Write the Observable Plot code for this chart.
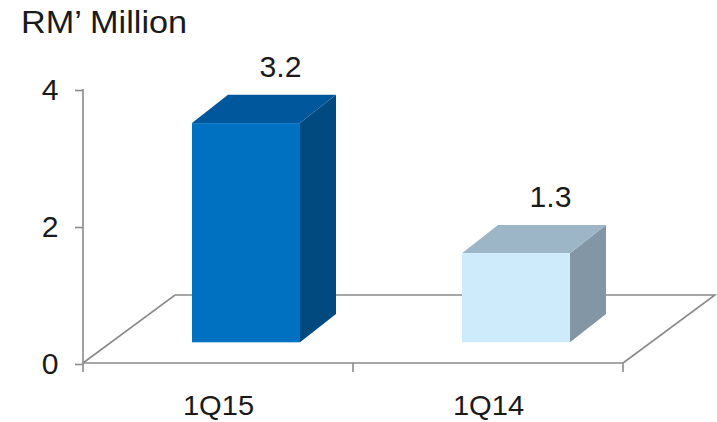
<!DOCTYPE html>
<html><head><meta charset="utf-8">
<script src="https://cdn.jsdelivr.net/npm/d3@7"></script>
<script src="https://cdn.jsdelivr.net/npm/@observablehq/plot@0.6"></script>
<style>
body{margin:0;background:#fff;}
#wrap{position:relative;width:717px;height:422px;font-family:"Liberation Sans",Arial,sans-serif;}
#title{position:absolute;left:21px;top:6px;font-size:32px;line-height:1;color:#1a1a1a;white-space:nowrap;transform:scaleX(1.07);transform-origin:0 0;}
#wrap svg{position:absolute;left:0;top:0;}
</style></head><body>
<div id="wrap"><div id="title"></div></div>
<script>
// ---- data ----
const unitLabel = "RM’ Million";
const categories = ["1Q15", "1Q14"];
const values = [3.2, 1.3];
const yTicks = [0, 2, 4];

// ---- style (not data) ----
const frontColors = ["#0070C0", "#CDEBFB"];
const topColors = ["#00579C", "#9CB5C7"];
const sideColors = ["#004A80", "#8296A5"];
const axisGray = "#8a8a8a";
const textColor = "#1a1a1a";
const FRONT = [28, -20.7];   // pixel offset of bar front face (3D depth)
const DEPTH = [36, -28.3];   // pixel depth of each bar
const FLOOR = [92, -68];     // pixel depth of the floor
const BAR_FRAC = 0.4;
const TEXT_STRETCH = 1.04;   // the reference's lettering is slightly widened
const FS = 29;
const FS_X = 28;

document.getElementById("title").textContent = unitLabel;

const table = categories.map((c, i) => ({cat: c, value: values[i]}));
const NS = "http://www.w3.org/2000/svg";
function el(name, attrs) {
  const e = document.createElementNS(NS, name);
  for (const k in attrs) e.setAttribute(k, attrs[k]);
  return e;
}

// floor (3D base plane) + axis lines
const floorMark = (index, {x, y}) => {
  const g = el("g", {fill: "none", stroke: axisGray, "stroke-width": 1.6});
  const [x0, x1] = x.range();
  const y0 = y(0);
  const [fdx, fdy] = FLOOR;
  g.append(el("path", {d: `M${x0},${y0}L${x0 + fdx},${y0 + fdy}L${x1 + fdx},${y0 + fdy}L${x1},${y0}`}));
  g.append(el("path", {d: `M${x0},${y(yTicks[yTicks.length - 1])}L${x0},${y0}`}));
  g.append(el("path", {d: `M${x0},${y0}L${x1},${y0}`}));
  const bounds = categories.map(c => x(c)).concat([x(categories[categories.length - 1]) + x.bandwidth()]);
  for (const bx of bounds) g.append(el("path", {d: `M${bx},${y0}L${bx},${y0 + 9}`}));
  return g;
};

// top and side faces of each 3D bar
const facesMark = (index, {x, y}) => {
  const g = el("g", {});
  const bw = x.bandwidth();
  const [ddx, ddy] = DEPTH;
  categories.forEach((c, i) => {
    const w = bw * BAR_FRAC;
    const l = x(c) + bw / 2 - w / 2 + FRONT[0], r = l + w;
    const b = y(0) + FRONT[1], t = y(values[i]) + FRONT[1];
    g.append(el("path", {d: `M${r},${t}L${r + ddx},${t + ddy}L${r + ddx},${b + ddy}L${r},${b}Z`, fill: sideColors[i]}));
    g.append(el("path", {d: `M${l},${t}L${r},${t}L${r + ddx},${t + ddy}L${l + ddx},${t + ddy}Z`, fill: topColors[i]}));
  });
  return g;
};

const W = 717, H = 422;
const chart = Plot.plot({
  width: W, height: H,
  marginLeft: 83, marginRight: 94, marginTop: 89, marginBottom: 59,
  style: {fontFamily: "'Liberation Sans', Arial, sans-serif", fontSize: FS + "px", color: textColor, background: "transparent", overflow: "visible"},
  x: {domain: categories, padding: 0, label: null},
  y: {domain: [0, 4], label: null},
  color: {domain: categories, range: frontColors},
  marks: [
    floorMark,
    Plot.axisY({ticks: yTicks, tickSize: 8, tickPadding: 17, fontSize: FS, stroke: axisGray, strokeWidth: 1.6, fill: textColor, dy: 1, tickFormat: d3.format("d")}),
    Plot.axisX({tickSize: 0, tickPadding: 32, fontSize: FS_X, fill: textColor}),
    facesMark,
    Plot.barY(table, {x: "cat", y: "value", fill: "cat", dx: FRONT[0], dy: FRONT[1], insetLeft: 81, insetRight: 81}),
    Plot.text(table, {x: "cat", y: "value", text: d => d.value.toFixed(1), dx: 62, dy: -67, lineAnchor: "bottom", fontSize: FS, fill: textColor})
  ]
});
document.getElementById("wrap").appendChild(chart);

// enforce font sizes (inline) and slight horizontal widening of lettering
const sizes = {"y-axis tick label": FS, "x-axis tick label": FS_X, "text": FS};
for (const [label, fs] of Object.entries(sizes)) {
  chart.querySelectorAll(`g[aria-label="${label}"] text`).forEach(t => { t.style.fontSize = fs + "px"; });
}
chart.querySelectorAll("text").forEach(t => {
  const len = t.getComputedTextLength();
  if (len > 0) {
    t.setAttribute("textLength", (len * TEXT_STRETCH).toFixed(2));
    t.setAttribute("lengthAdjust", "spacingAndGlyphs");
  }
});
</script>
</body></html>
